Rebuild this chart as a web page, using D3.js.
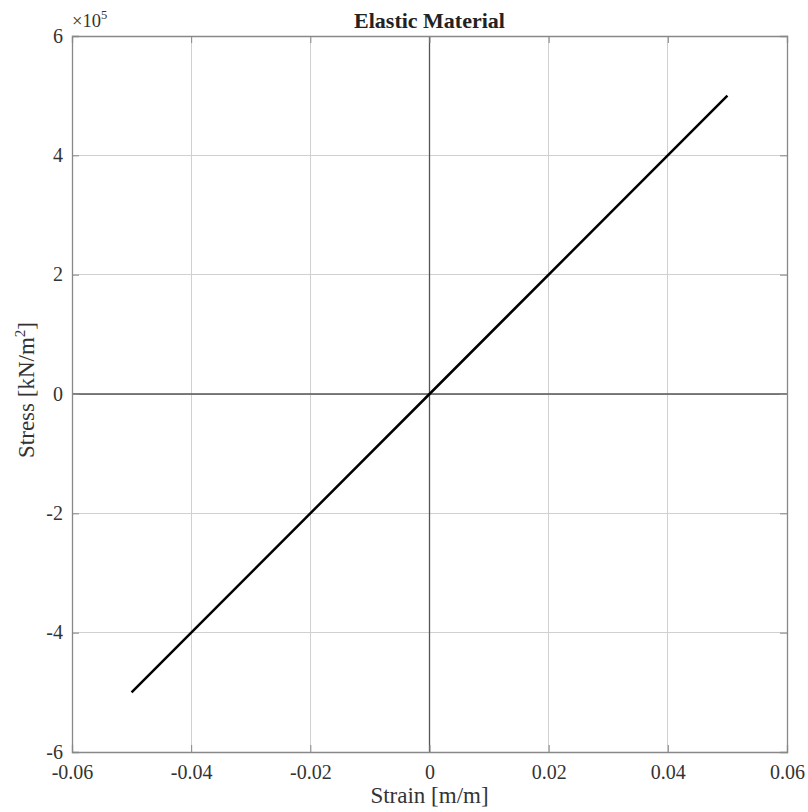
<!DOCTYPE html>
<html><head><meta charset="utf-8">
<script src="https://cdn.jsdelivr.net/npm/d3@7"></script>
<style>body{margin:0;background:#fff;} text{font-family:"Liberation Serif","Times New Roman",serif;}</style>
</head><body>
<svg id="c" width="808" height="812"></svg>
<script>
const strain = [-0.05, 0, 0.05];
const stress = [-5e5, 0, 5e5];
const xTicks = [-0.06, -0.04, -0.02, 0, 0.02, 0.04, 0.06];
const yTicks = [-6, -4, -2, 0, 2, 4, 6];
const xTickLabels = ["-0.06", "-0.04", "-0.02", "0", "0.02", "0.04", "0.06"];
const yTickLabels = ["-6", "-4", "-2", "0", "2", "4", "6"];
const title = "Elastic Material";

const svg = d3.select("#c");
const L = 72, R = 787, T = 36, B = 752;
const x = d3.scaleLinear().domain([-0.06, 0.06]).range([L, R]);
const y = d3.scaleLinear().domain([-6e5, 6e5]).range([B, T]);

const g = svg.append("g");
// grid
g.selectAll(".gx").data(xTicks.slice(1, -1)).enter().append("line")
  .attr("x1", d => x(d)).attr("x2", d => x(d)).attr("y1", T).attr("y2", B)
  .attr("stroke", "#d0d0d0").attr("stroke-width", 1).attr("shape-rendering", "crispEdges");
g.selectAll(".gy").data(yTicks.slice(1, -1)).enter().append("line")
  .attr("y1", d => y(d * 1e5)).attr("y2", d => y(d * 1e5)).attr("x1", L).attr("x2", R)
  .attr("stroke", "#d0d0d0").attr("stroke-width", 1).attr("shape-rendering", "crispEdges");
// zero axes
g.append("line").attr("x1", x(0)).attr("x2", x(0)).attr("y1", T).attr("y2", B)
  .attr("stroke", "#555").attr("stroke-width", 1.3);
g.append("line").attr("y1", y(0)).attr("y2", y(0)).attr("x1", L).attr("x2", R)
  .attr("stroke", "#555").attr("stroke-width", 1.3);

// axes
const tickLen = 7;
const xb = svg.append("g").attr("transform", `translate(0,${B})`)
  .call(d3.axisBottom(x).tickValues(xTicks).tickSize(-tickLen).tickFormat((d, i) => xTickLabels[i]));
const xt = svg.append("g").attr("transform", `translate(0,${T})`)
  .call(d3.axisTop(x).tickValues(xTicks).tickSize(-tickLen).tickFormat(""));
const yl = svg.append("g").attr("transform", `translate(${L},0)`)
  .call(d3.axisLeft(y).tickValues(yTicks.map(v => v * 1e5)).tickSize(-tickLen).tickPadding(9).tickFormat((d, i) => yTickLabels[i]));
const yr = svg.append("g").attr("transform", `translate(${R},0)`)
  .call(d3.axisRight(y).tickValues(yTicks.map(v => v * 1e5)).tickSize(-tickLen).tickFormat(""));
[xb, xt, yl, yr].forEach(a => {
  a.selectAll(".domain").attr("stroke", "#888").attr("stroke-width", 1.3);
  a.selectAll(".tick line").attr("stroke", "#888").attr("stroke-width", 1);
  a.selectAll("text").attr("font-family", "Liberation Serif").attr("font-size", 20).attr("fill", "#333");
});
xb.selectAll("text").attr("dy", null).attr("y", 27);
yl.selectAll("text").attr("x", -9).attr("dy", "0.3em");

// data line
svg.append("path").datum(strain.map((s, i) => [s, stress[i]]))
  .attr("d", d3.line().x(d => x(d[0])).y(d => y(d[1])))
  .attr("fill", "none").attr("stroke", "#000").attr("stroke-width", 2.5);

// exponent
const ex = svg.append("text").attr("x", L).attr("y", 27).attr("font-size", 18.5).attr("fill", "#333");
ex.append("tspan").text("\u00d710");
ex.append("tspan").attr("dy", -8).attr("font-size", 12.5).text("5");

// title
svg.append("text").attr("x", (L + R) / 2).attr("y", 28).attr("text-anchor", "middle")
  .attr("font-size", 22).attr("font-weight", "bold").attr("fill", "#222").text(title);

// x label
svg.append("text").attr("x", (L + R) / 2).attr("y", 803).attr("text-anchor", "middle")
  .attr("font-size", 23).attr("fill", "#333").text("Strain [m/m]");
// y label
const ylab = svg.append("text").attr("transform", `translate(34,${(T + B) / 2 - 4}) rotate(-90)`)
  .attr("text-anchor", "middle").attr("font-size", 23).attr("fill", "#333");
ylab.append("tspan").text("Stress [kN/m");
ylab.append("tspan").attr("dy", -9).attr("font-size", 15).text("2");
ylab.append("tspan").attr("dy", 9).text("]");
</script>
</body></html>
